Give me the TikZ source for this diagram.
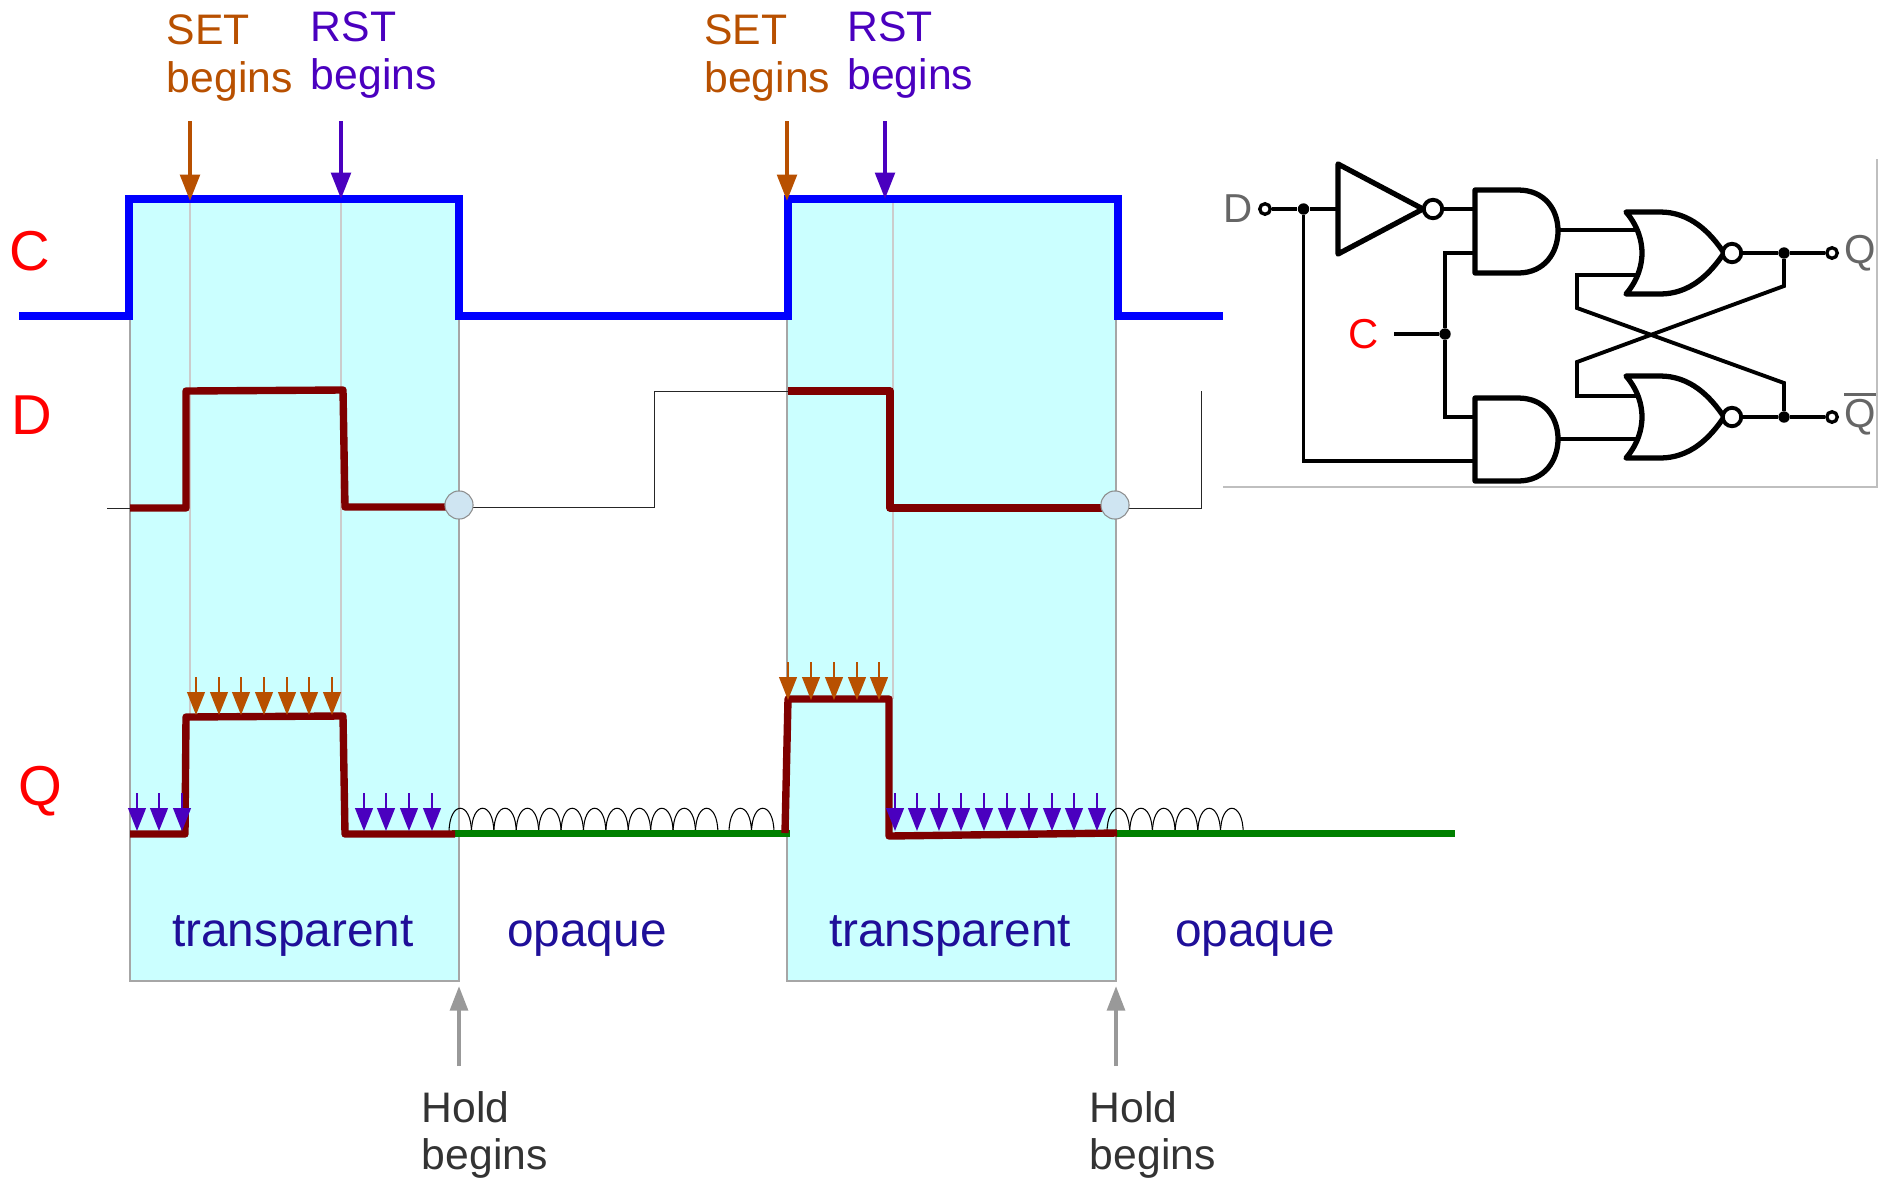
\documentclass[tikz,border=0pt]{standalone}
\usepackage{fontspec}
\setmainfont{Liberation Sans}
\usetikzlibrary{arrows.meta,calc}
\definecolor{setcol}{HTML}{B85000}
\definecolor{rstcol}{HTML}{4A00BF}
\definecolor{phasecol}{HTML}{1F0F99}
\definecolor{latchcyan}{HTML}{CBFFFF}
\definecolor{waveq}{HTML}{7F0000}
\definecolor{holdcircle}{HTML}{CFE5F2}
\tikzset{
    phase/.style={fill=latchcyan, draw=black!35, line width=0.6pt},
    guide/.style={draw=black!20, line width=0.6pt},
    clock/.style={draw=blue, line width=4.6pt, miter limit=2},
    dataline/.style={draw=black!85, line width=0.55pt},
    output/.style={draw=waveq, line width=4.2pt, line join=round},
    kept/.style={draw=black!50!green, line width=4pt},
    bigarrow/.style={line width=2.4pt, -{Triangle[length=15pt,width=11pt]}},
    tinyarrow/.style={line width=1.2pt, -{Triangle[length=13pt,width=10pt]}},
    holdarrow/.style={draw=black!40, fill=black!40, line width=2.4pt, -{Triangle[length=14pt,width=10pt]}},
    caption/.style={font=\fontsize{24.3}{27.2}\selectfont, align=left, anchor=west, inner sep=0pt},
    phasetext/.style={font=\fontsize{27.2}{30}\selectfont, text=phasecol, anchor=base, inner sep=0pt},
    signal/.style={font=\fontsize{32}{36}\selectfont, text=red, inner sep=0pt},
    arch/.style={draw=black, line width=0.6pt},
    gate/.style={draw=black, line width=3pt, line join=round, fill=white},
    wire/.style={draw=black, line width=2.2pt},
    term/.style={circle, draw=black, line width=1.9pt, fill=white, inner sep=0pt, minimum size=6pt},
    bubble/.style={circle, draw=black, line width=2.2pt, fill=white, inner sep=0pt, minimum size=10.5pt},
    junction/.style={circle, fill=black, inner sep=0pt, minimum size=6.5pt},
    pinlabel/.style={font=\fontsize{23}{25}\selectfont, text=black!60, inner sep=0pt}
}
\begin{document}
\begin{tikzpicture}[x=0.02cm, y=-0.02cm]
    \useasboundingbox (0, 0) rectangle (1886, 1181);
    \draw[phase] (130, 199) rectangle (459, 981);
    \draw[phase] (787, 199) rectangle (1116, 981);
    \draw[guide] (190, 199) -- (190, 714);
    \draw[guide] (341, 199) -- (341, 714);
    \draw[guide] (893, 199) -- (893, 699);
    \draw[clock] (19, 316) -- (129, 316) -- (129, 199) -- (459, 199) -- (459, 316) -- (788, 316) -- (788, 199) -- (1118, 199) -- (1118, 316) -- (1223, 316);
    \draw[dataline] (107, 508) -- (130, 508);
    \draw[dataline] (459, 507) -- (654, 507) -- (654, 391) -- (788, 391);
    \draw[dataline] (1116, 508) -- (1201, 508) -- (1201, 391);
    \draw[output] (130, 508) -- (186, 508) -- (186, 391) -- (343, 390) -- (345, 507) -- (447, 507);
    \draw[output] (788, 391) -- (890, 391) -- (890, 508) -- (1105, 508);
    \node[circle, draw=black!45, fill=holdcircle, line width=0.6pt, inner sep=0pt, minimum size=16pt] (holdA) at (459, 505) {};
    \node[circle, draw=black!45, fill=holdcircle, line width=0.6pt, inner sep=0pt, minimum size=16pt] (holdB) at (1115, 505) {};
    \foreach \x in {449,471.4,...,696} {
        \draw[arch] (\x, 833) .. controls (\x, 800) and (\x + 22.5, 800) .. (\x + 22.5, 833);
    }
    \draw[arch] (729, 833) .. controls (729, 800) and (751.5, 800) .. (751.5, 833) .. controls (751.5, 800) and (774, 800) .. (774, 833);
    \foreach \x in {1107,1129.7,...,1230} {
        \draw[arch] (\x, 833) .. controls (\x, 800) and (\x + 22.7, 800) .. (\x + 22.7, 833);
    }
    \draw[kept] (452, 833) -- (790, 833);
    \draw[kept] (1116, 833) -- (1455, 833);
    \draw[output] (130, 834) -- (185, 834) -- (186, 717) -- (341, 716) -- (343, 716) -- (345, 834) -- (455, 834);
    \draw[output] (785, 833) -- (788, 699) -- (889, 699) -- (889, 836) -- (1117, 833);
    \foreach \x in {196,219,241,264,287,309,332} {
        \draw[tinyarrow, draw=setcol, fill=setcol] (\x, 677) -- (\x, 715);
    }
    \foreach \x in {788,811,834,857,879} {
        \draw[tinyarrow, draw=setcol, fill=setcol] (\x, 662) -- (\x, 700);
    }
    \foreach \x in {137,159,182,364,386,409,432,895,917,939,961,984,1007,1029,1052,1074,1097} {
        \draw[tinyarrow, draw=rstcol, fill=rstcol] (\x, 793) -- (\x, 831);
    }
    \draw[bigarrow, draw=setcol, fill=setcol] (190, 121) -- (190, 201);
    \draw[bigarrow, draw=rstcol, fill=rstcol] (341, 121) -- (341, 199);
    \draw[bigarrow, draw=setcol, fill=setcol] (787, 121) -- (787, 201);
    \draw[bigarrow, draw=rstcol, fill=rstcol] (885, 121) -- (885, 199);
    \draw[holdarrow] (459, 1066) -- (459, 986);
    \draw[holdarrow] (1116, 1066) -- (1116, 986);
    \node[caption, text=setcol] (setA) at (166.5, 58) {SET\\begins};
    \node[caption, text=rstcol] (rstA) at (310.5, 55) {RST\\begins};
    \node[caption, text=setcol] (setB) at (704, 58) {SET\\begins};
    \node[caption, text=rstcol] (rstB) at (847, 55) {RST\\begins};
    \node[caption, text=black!80] (holdTextA) at (421.5, 1135) {Hold\\begins};
    \node[caption, text=black!80] (holdTextB) at (1089.5, 1135) {Hold\\begins};
    \node[phasetext] (transpA) at (293, 946) {transparent};
    \node[phasetext] (opaqueA) at (587, 946) {opaque};
    \node[phasetext] (transpB) at (950, 946) {transparent};
    \node[phasetext] (opaqueB) at (1255, 946) {opaque};
    \node[signal] (sigC) at (30, 251) {C};
    \node[signal] (sigD) at (32, 415) {D};
    \node[signal] (sigQ) at (40, 791) {Q};
    \draw[black!25, line width=0.7pt] (1223, 487) -- (1877, 487) -- (1877, 159);
    \node[term] (dTerm) at (1265, 209) {};
    \node[term] (qTerm) at (1832, 253) {};
    \node[term] (nqTerm) at (1832, 417) {};
    \node[junction] (dJoin) at (1303.5, 209) {};
    \node[junction] (cJoin) at (1445, 334) {};
    \node[junction] (qJoin) at (1784, 253) {};
    \node[junction] (nqJoin) at (1784, 417) {};
    \coordinate (cWire) at (1394, 334);
    \draw[wire] (dTerm) -- (dJoin) -- (1340, 209);
    \draw[wire] (1433, 209) -- (1477, 209);
    \draw[wire] (dJoin) -- (1303.5, 461) -- (1477, 461);
    \draw[wire] (cWire) -- (cJoin);
    \draw[wire] (1477, 253) -- (1445, 253) -- (cJoin) -- (1445, 417) -- (1477, 417);
    \draw[wire] (1556, 230) -- (1637, 230);
    \draw[wire] (1556, 439) -- (1637, 439);
    \draw[wire] (1730, 253) -- (qJoin) -- (qTerm);
    \draw[wire] (1730, 417) -- (nqJoin) -- (nqTerm);
    \draw[wire] (1637, 275) -- (1577, 275) -- (1577, 308) -- (1784, 383) -- (nqJoin);
    \draw[wire] (qJoin) -- (1784, 286) -- (1577, 362) -- (1577, 396) -- (1637, 396);
    \draw[gate] (1338, 164) -- (1423, 209) -- (1338, 254) -- cycle;
    \node[bubble] (invBubble) at (1433, 209) {};
    \foreach \y in {0,208} {
        \draw[gate] (1475, 190 + \y) -- (1518, 190 + \y) .. controls (1545, 190 + \y) and (1558, 210 + \y) .. (1558, 231 + \y) .. controls (1558, 252 + \y) and (1545, 273 + \y) .. (1518, 273 + \y) -- (1475, 273 + \y) -- cycle;
    }
    \foreach \y in {0,164} {
        \draw[gate] (1626, 212 + \y) -- (1660, 212 + \y) .. controls (1690, 212 + \y) and (1710, 232 + \y) .. (1724, 253 + \y) .. controls (1710, 274 + \y) and (1690, 294 + \y) .. (1660, 294 + \y) -- (1626, 294 + \y) .. controls (1638, 280 + \y) and (1642, 265 + \y) .. (1642, 253 + \y) .. controls (1642, 241 + \y) and (1638, 226 + \y) .. (1626, 212 + \y) -- cycle;
        \node[bubble] at (1732, 253 + \y) {};
    }
    \node[pinlabel] (dLabel) at (1238, 209) {D};
    \node[pinlabel] (qLabel) at (1860, 253) {Q};
    \node[pinlabel] (nqLabel) at (1860, 414) {\vbox{\hrule height 1.5pt \kern 2pt \hbox{Q}}};
    \node[font=\fontsize{23.8}{27}\selectfont, text=red, inner sep=0pt] (cLabel) at (1364, 334) {C};
\end{tikzpicture}
\end{document}
